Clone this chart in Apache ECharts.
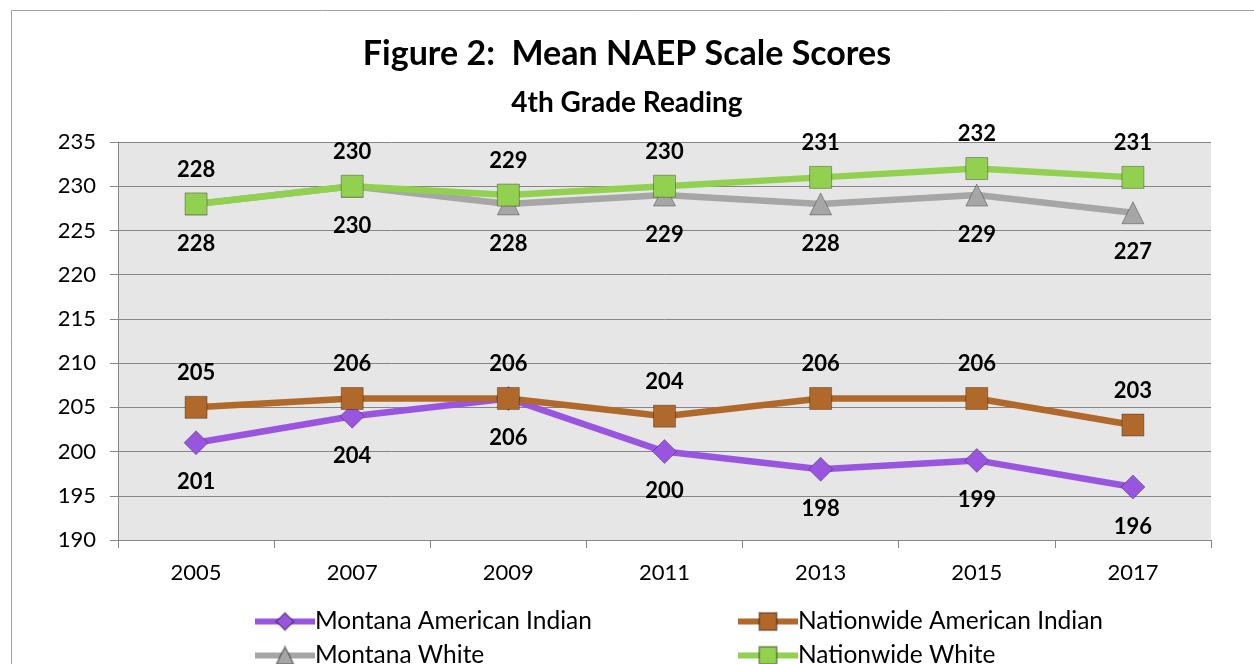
<!DOCTYPE html>
<html>
<head>
<meta charset="utf-8">
<script src="https://cdn.jsdelivr.net/npm/echarts@6/dist/echarts.min.js"></script>
<style>
  html, body { margin: 0; padding: 0; background: #fff; }
  #chart { width: 1254px; height: 664px; }
</style>
</head>
<body>
<div id="chart"></div>
<script>
var years = ['2005', '2007', '2009', '2011', '2013', '2015', '2017'];
var montanaIndian = [201, 204, 206, 200, 198, 199, 196];
var montanaWhite = [228, 230, 228, 229, 228, 229, 227];
var nationIndian = [205, 206, 206, 204, 206, 206, 203];
var nationWhite = [228, 230, 229, 230, 231, 232, 231];

var FONT = 'Lato';

function makeSeries(name, data, color, symbol, size, pos, dist) {
    return {
        name: name,
        type: 'line',
        data: data,
        symbol: symbol,
        symbolSize: size,
        lineStyle: { color: color, width: 6.5 },
        itemStyle: { color: color, borderColor: 'rgba(0,0,0,0.3)', borderWidth: 1 },
        label: {
            show: true,
            position: pos,
            distance: dist,
            fontFamily: FONT,
            fontWeight: 'bold',
            fontSize: 22,
            color: '#000'
        }
    };
}

function legendBox(left, names) {
    return {
        left: left,
        top: 604,
        height: 80,
        orient: 'vertical',
        itemGap: 9,
        itemWidth: 60,
        itemHeight: 22,
        lineStyle: { width: 6 },
        data: names,
        textStyle: { fontFamily: FONT, fontSize: 24.5, color: '#000', padding: [0, 0, 0, -5] }
    };
}

var chart = echarts.init(document.getElementById('chart'));
var option = {
    backgroundColor: '#fff',
    animation: false,
    title: [{
        text: 'Figure 2:  Mean NAEP Scale Scores',
        left: 'center',
        top: 32,
        textStyle: { fontFamily: FONT, fontWeight: 'bold', fontSize: 34, color: '#000' }
    }, {
        text: '4th Grade Reading',
        left: 'center',
        top: 84,
        textStyle: { fontFamily: FONT, fontWeight: 'bold', fontSize: 28, color: '#000' }
    }],
    graphic: [{
        type: 'rect',
        shape: { x: 11.5, y: 10.5, width: 1260, height: 700 },
        style: { fill: 'none', stroke: '#a0a0a0', lineWidth: 1 }
    }],
    legend: [
        legendBox(247, ['Montana American Indian', 'Montana White']),
        legendBox(730, ['Nationwide American Indian', 'Nationwide White'])
    ],
    grid: {
        left: 118,
        right: 43,
        top: 142,
        bottom: 124,
        show: true,
        backgroundColor: '#e6e6e6',
        borderWidth: 0
    },
    xAxis: {
        type: 'category',
        data: years,
        boundaryGap: true,
        axisLine: { lineStyle: { color: '#868686', width: 1 } },
        axisTick: { show: true, length: 8, lineStyle: { color: '#868686' } },
        axisLabel: { fontFamily: FONT, fontSize: 22, color: '#000', margin: 22 }
    },
    yAxis: {
        type: 'value',
        min: 190,
        max: 235,
        interval: 5,
        axisLine: { show: true, lineStyle: { color: '#868686', width: 1 } },
        axisTick: { show: true, length: 8, lineStyle: { color: '#868686' } },
        splitLine: { lineStyle: { color: '#868686', width: 1 } },
        axisLabel: { fontFamily: FONT, fontSize: 22, color: '#000', margin: 22 }
    },
    series: [
        makeSeries('Montana American Indian', montanaIndian, '#9a55e0', 'diamond', 24, 'bottom', 16),
        makeSeries('Montana White', montanaWhite, '#a6a6a6', 'triangle', 22, 'bottom', 17),
        makeSeries('Nationwide American Indian', nationIndian, '#b0692a', 'rect', 22, 'top', 12),
        makeSeries('Nationwide White', nationWhite, '#92d050', 'rect', 22, 'top', 12)
    ]
};
chart.setOption(option);
</script>
</body>
</html>
